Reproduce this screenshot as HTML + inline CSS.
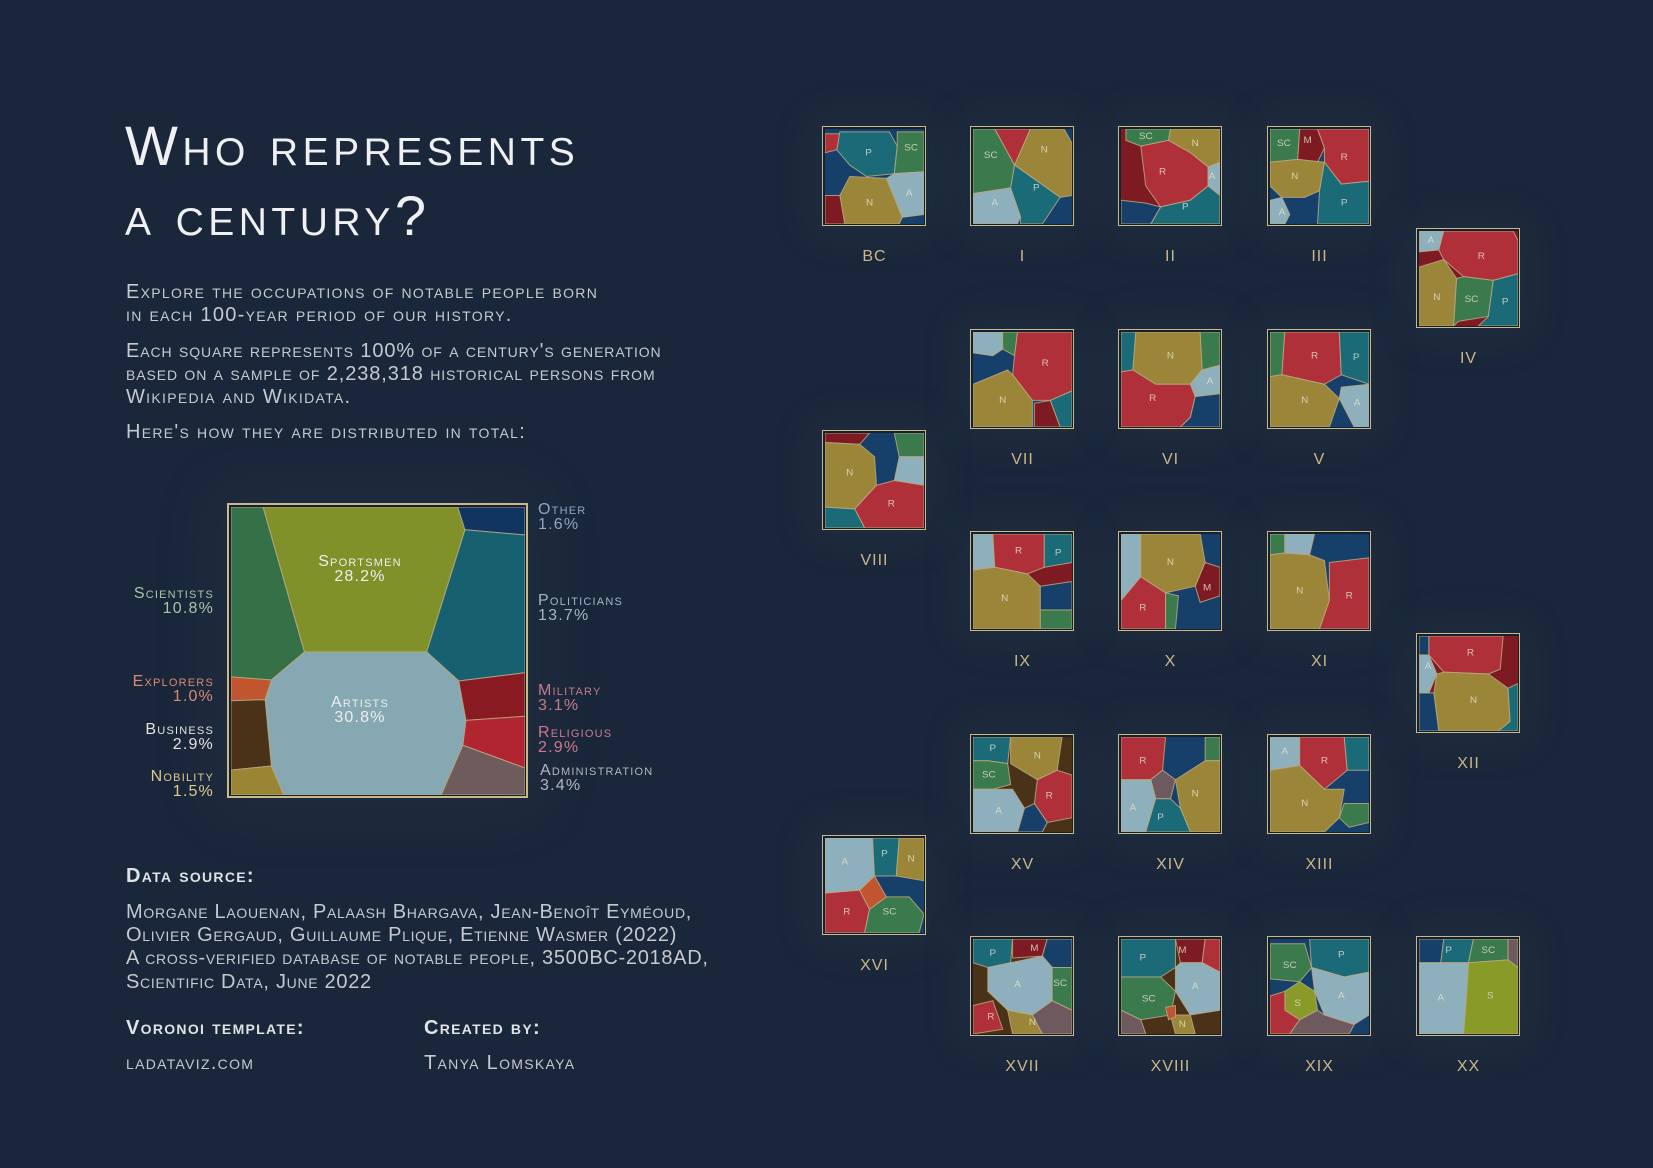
<!DOCTYPE html>
<html><head><meta charset="utf-8"><style>
html,body{margin:0;padding:0}
body{width:1653px;height:1168px;background:#1a2639;position:relative;overflow:hidden;font-family:"Liberation Sans",sans-serif;font-variant:small-caps;color:#c8ccd2}
.a{position:absolute;white-space:nowrap}
.t{font-size:56px;color:#eef0f2;letter-spacing:4.5px;font-weight:normal}
.p{font-size:20px;letter-spacing:1.3px;color:#c6cad0}
.q{letter-spacing:0.9px}
.d{letter-spacing:0.7px}
.sq{position:absolute;width:99px;height:95px;border:1.5px solid #c9b888;padding:1.5px;background:#16202f;box-shadow:0 0 40px 14px rgba(120,135,160,.07)}
.sq svg{display:block;width:99px;height:95px}
.lb{position:absolute;width:105px;text-align:center;font-size:16px;color:#c9b888;letter-spacing:1px;font-variant:normal}
svg polygon{stroke:#bba883;stroke-width:1;vector-effect:non-scaling-stroke;stroke-opacity:.85}
svg text{font-family:"Liberation Sans",sans-serif;font-size:10px;fill:#e6e2d2;fill-opacity:.8;text-anchor:middle;dominant-baseline:middle}
.ml{position:absolute;font-size:16px;line-height:15px;letter-spacing:1.2px}
.r{text-align:right}
</style></head><body>

<div class="a t" style="left:125px;top:113px">Who represents</div>
<div class="a t" style="left:125px;top:183px">a century?</div>

<div class="a p" style="left:126px;top:281px">Explore the occupations of notable people born</div>
<div class="a p" style="left:126px;top:304px">in each 100-year period of our history.</div>
<div class="a p q" style="left:126px;top:340px">Each square represents 100% of a century's generation</div>
<div class="a p q" style="left:126px;top:363px">based on a sample of 2,238,318 historical persons from</div>
<div class="a p" style="left:126px;top:386px">Wikipedia and Wikidata.</div>
<div class="a p" style="left:126px;top:421px">Here's how they are distributed in total:</div>

<!-- main chart -->
<div style="position:absolute;left:227px;top:503px;width:294px;height:288px;border:2px solid #c9b888;padding:1.5px;background:#16202f;box-shadow:0 0 60px 20px rgba(120,135,160,.07)">
<svg viewBox="0 0 284 278" preserveAspectRatio="none" style="display:block;width:294px;height:288px">
<rect width="284" height="278" fill="#16406a"/>
<polygon fill="#357046" points="0,0 31,0 71,140 39,167 0,164"/>
<polygon fill="#80912a" points="31,0 219,0 226,22 189,140 71,140"/>
<polygon fill="#0f3560" points="219,0 284,0 284,27 226,22"/>
<polygon fill="#17606f" points="226,22 284,27 284,160 220,168 189,140"/>
<polygon fill="#86a8b3" points="71,140 189,140 220,168 227,206 224,230 203,278 51,278 39,250 33,186 39,167"/>
<polygon fill="#c0552f" points="0,164 39,167 33,186 0,187"/>
<polygon fill="#4a3218" points="0,187 33,186 39,250 0,254"/>
<polygon fill="#9a8535" points="0,254 39,250 51,278 0,278"/>
<polygon fill="#8a1a22" points="220,168 284,160 284,202 227,206"/>
<polygon fill="#b0252f" points="227,206 284,202 284,252 224,230"/>
<polygon fill="#6f5a5c" points="224,230 284,252 284,278 203,278"/>
</svg>
<div class="ml" style="left:0;width:262px;top:49px;text-align:center;color:#eee">Sportsmen<br>28.2%</div>
<div class="ml" style="left:0;width:262px;top:190px;text-align:center;color:#eee">Artists<br>30.8%</div>
</div>

<div class="ml" style="left:538px;top:502px;color:#8fa8c2">Other<br>1.6%</div>
<div class="ml" style="left:538px;top:593px;color:#a3b6c6">Politicians<br>13.7%</div>
<div class="ml" style="left:538px;top:683px;color:#c27b88">Military<br>3.1%</div>
<div class="ml" style="left:538px;top:725px;color:#cc7a8c">Religious<br>2.9%</div>
<div class="ml" style="left:540px;top:763px;color:#b4b6bd">Administration<br>3.4%</div>
<div class="ml r" style="right:1439px;top:586px;color:#a8c6a8">Scientists<br>10.8%</div>
<div class="ml r" style="right:1439px;top:674px;color:#d88a76">Explorers<br>1.0%</div>
<div class="ml r" style="right:1439px;top:722px;color:#e2e2e2">Business<br>2.9%</div>
<div class="ml r" style="right:1439px;top:769px;color:#dccb8e">Nobility<br>1.5%</div>

<div class="a p" style="left:126px;top:865px;font-weight:bold;color:#e0e2e6">Data source:</div>
<div class="a p d" style="left:126px;top:901px">Morgane Laouenan, Palaash Bhargava, Jean-Benoît Eyméoud,</div>
<div class="a p d" style="left:126px;top:924px">Olivier Gergaud, Guillaume Plique, Etienne Wasmer (2022)</div>
<div class="a p d" style="left:126px;top:947px">A cross-verified database of notable people, 3500BC-2018AD,</div>
<div class="a p d" style="left:126px;top:971px">Scientific Data, June 2022</div>
<div class="a p" style="left:126px;top:1017px;font-weight:bold;color:#e0e2e6">Voronoi template:</div>
<div class="a p" style="left:126px;top:1052px">ladataviz.com</div>
<div class="a p" style="left:424px;top:1017px;font-weight:bold;color:#e0e2e6">Created by:</div>
<div class="a p" style="left:424px;top:1052px">Tanya Lomskaya</div>

<!-- BC -->
<div class="sq" style="left:822px;top:126px"><svg viewBox="0 0 100 100" preserveAspectRatio="none">
<rect width="100" height="100" fill="#16406a"/>
<polygon fill="#b0303a" points="0,5 15,5 12,22 0,25"/>
<polygon fill="#1a6a78" points="15,3 65,3 73,18 70,47 42,50 25,38 12,22"/>
<polygon fill="#3a7a4c" points="73,3 100,3 100,45 70,47 73,18"/>
<polygon fill="#8eb0bc" points="62,52 70,47 100,45 100,90 78,93"/>
<polygon fill="#9a8538" points="25,50 62,52 78,93 75,100 20,100 15,70"/>
<polygon fill="#7e1a22" points="0,70 15,70 20,100 0,100"/>
<text x="44" y="25">P</text><text x="87" y="20">SC</text><text x="85" y="68">A</text><text x="45" y="78">N</text>
</svg></div><div class="lb" style="left:822px;top:248px">BC</div>

<!-- I -->
<div class="sq" style="left:970px;top:126px"><svg viewBox="0 0 100 100" preserveAspectRatio="none">
<rect width="100" height="100" fill="#16406a"/>
<polygon fill="#3a7a4c" points="0,0 22,0 42,38 38,62 0,68"/>
<polygon fill="#b0303a" points="22,0 58,0 42,38"/>
<polygon fill="#9a8538" points="58,0 92,0 100,15 100,70 88,72 42,38"/>
<polygon fill="#8eb0bc" points="0,68 38,62 48,92 45,100 0,100"/>
<polygon fill="#1a6a78" points="42,38 88,72 70,100 48,100 48,92 38,62"/>
<text x="18" y="28">SC</text><text x="72" y="22">N</text><text x="22" y="78">A</text><text x="64" y="62">P</text>
</svg></div><div class="lb" style="left:970px;top:248px">I</div>

<!-- II -->
<div class="sq" style="left:1118px;top:126px"><svg viewBox="0 0 100 100" preserveAspectRatio="none">
<rect width="100" height="100" fill="#7e1a22"/>
<polygon fill="#3a7a4c" points="5,0 50,0 48,12 20,18 5,12"/>
<polygon fill="#9a8538" points="50,0 100,0 100,35 88,40 70,25 48,12"/>
<polygon fill="#b0303a" points="20,18 48,12 70,25 88,40 88,60 70,75 40,82 25,60"/>
<polygon fill="#8eb0bc" points="88,40 100,35 100,70 88,60"/>
<polygon fill="#1a6a78" points="40,82 70,75 88,60 100,70 100,100 30,100"/>
<polygon fill="#16406a" points="0,75 25,78 40,82 30,100 0,100"/>
<text x="25" y="8">SC</text><text x="75" y="15">N</text><text x="42" y="45">R</text><text x="92" y="50">A</text><text x="65" y="82">P</text>
</svg></div><div class="lb" style="left:1118px;top:248px">II</div>

<!-- III -->
<div class="sq" style="left:1267px;top:126px"><svg viewBox="0 0 100 100" preserveAspectRatio="none">
<rect width="100" height="100" fill="#16406a"/>
<polygon fill="#3a7a4c" points="0,0 30,0 28,32 0,35"/>
<polygon fill="#7e1a22" points="30,0 48,0 55,20 48,35 28,32"/>
<polygon fill="#b0303a" points="48,0 100,0 100,55 72,58 55,35 55,20"/>
<polygon fill="#9a8538" points="0,35 28,32 55,35 50,65 35,72 12,72 0,60"/>
<polygon fill="#1a6a78" points="50,65 55,35 72,58 100,55 100,100 48,100"/>
<polygon fill="#8eb0bc" points="0,75 12,72 20,90 15,100 0,100"/>
<text x="14" y="15">SC</text><text x="38" y="12">M</text><text x="75" y="30">R</text><text x="25" y="50">N</text><text x="75" y="78">P</text><text x="12" y="88">A</text>
</svg></div><div class="lb" style="left:1267px;top:248px">III</div>

<!-- IV -->
<div class="sq" style="left:1416px;top:228px"><svg viewBox="0 0 100 100" preserveAspectRatio="none">
<rect width="100" height="100" fill="#7e1a22"/>
<polygon fill="#8eb0bc" points="0,0 25,0 20,20 0,22"/>
<polygon fill="#b0303a" points="25,0 95,0 100,10 100,45 75,52 45,48 25,30 20,20"/>
<polygon fill="#9a8538" points="0,38 25,30 38,50 35,100 0,100"/>
<polygon fill="#3a7a4c" points="38,50 45,48 75,52 70,90 40,95 35,100"/>
<polygon fill="#1a6a78" points="75,52 100,45 100,100 60,100 70,90"/>
<text x="12" y="10">A</text><text x="63" y="27">R</text><text x="18" y="70">N</text><text x="53" y="72">SC</text><text x="87" y="75">P</text>
</svg></div><div class="lb" style="left:1416px;top:350px">IV</div>

<!-- VII -->
<div class="sq" style="left:970px;top:329px"><svg viewBox="0 0 100 100" preserveAspectRatio="none">
<rect width="100" height="100" fill="#16406a"/>
<polygon fill="#8eb0bc" points="0,0 30,0 30,18 20,25 0,22"/>
<polygon fill="#3a7a4c" points="30,0 45,0 42,25 30,18"/>
<polygon fill="#b0303a" points="45,0 100,0 100,62 78,72 60,72 40,45 42,25"/>
<polygon fill="#9a8538" points="0,55 35,40 40,45 60,72 60,100 0,100"/>
<polygon fill="#1a6a78" points="78,72 100,62 100,100 88,100"/>
<polygon fill="#7e1a22" points="62,75 78,72 88,100 62,100"/>
<text x="73" y="33">R</text><text x="30" y="72">N</text>
</svg></div><div class="lb" style="left:970px;top:451px">VII</div>

<!-- VI -->
<div class="sq" style="left:1118px;top:329px"><svg viewBox="0 0 100 100" preserveAspectRatio="none">
<rect width="100" height="100" fill="#7e1a22"/>
<polygon fill="#1a6a78" points="0,0 15,0 12,40 0,42"/>
<polygon fill="#9a8538" points="15,0 80,0 82,40 70,55 35,55 12,40"/>
<polygon fill="#3a7a4c" points="80,0 100,0 100,35 82,40"/>
<polygon fill="#8eb0bc" points="82,40 100,35 100,65 75,68 70,55"/>
<polygon fill="#b0303a" points="0,42 12,40 35,55 70,55 75,68 70,90 60,100 0,100"/>
<polygon fill="#16406a" points="70,90 75,68 100,65 100,100 60,100"/>
<text x="50" y="25">N</text><text x="90" y="52">A</text><text x="32" y="70">R</text>
</svg></div><div class="lb" style="left:1118px;top:451px">VI</div>

<!-- V -->
<div class="sq" style="left:1267px;top:329px"><svg viewBox="0 0 100 100" preserveAspectRatio="none">
<rect width="100" height="100" fill="#16406a"/>
<polygon fill="#3a7a4c" points="0,0 15,0 12,45 0,47"/>
<polygon fill="#b0303a" points="15,0 70,0 72,45 55,55 12,45"/>
<polygon fill="#1a6a78" points="70,0 100,0 100,55 72,45"/>
<polygon fill="#9a8538" points="0,47 12,45 55,55 70,70 60,100 0,100"/>
<polygon fill="#8eb0bc" points="72,58 100,55 100,100 85,100 70,70"/>
<text x="45" y="25">R</text><text x="87" y="27">P</text><text x="35" y="72">N</text><text x="88" y="75">A</text>
</svg></div><div class="lb" style="left:1267px;top:451px">V</div>

<!-- VIII -->
<div class="sq" style="left:822px;top:430px"><svg viewBox="0 0 100 100" preserveAspectRatio="none">
<rect width="100" height="100" fill="#16406a"/>
<polygon fill="#7e1a22" points="0,0 45,0 35,12 0,10"/>
<polygon fill="#9a8538" points="0,10 35,12 50,25 52,55 30,80 0,78"/>
<polygon fill="#3a7a4c" points="70,0 100,0 100,25 75,25"/>
<polygon fill="#8eb0bc" points="75,25 100,25 100,55 70,50"/>
<polygon fill="#b0303a" points="52,55 70,50 100,55 100,100 40,100 30,80"/>
<polygon fill="#1a6a78" points="0,78 30,80 40,100 0,100"/>
<text x="25" y="42">N</text><text x="67" y="75">R</text>
</svg></div><div class="lb" style="left:822px;top:552px">VIII</div>

<!-- IX -->
<div class="sq" style="left:970px;top:531px"><svg viewBox="0 0 100 100" preserveAspectRatio="none">
<rect width="100" height="100" fill="#7e1a22"/>
<polygon fill="#8eb0bc" points="0,0 20,0 22,35 0,38"/>
<polygon fill="#b0303a" points="20,0 72,0 72,35 55,42 22,35"/>
<polygon fill="#1a6a78" points="72,0 100,0 100,30 72,35"/>
<polygon fill="#9a8538" points="0,38 22,35 55,42 68,55 68,100 0,100"/>
<polygon fill="#16406a" points="68,55 100,50 100,80 68,80"/>
<polygon fill="#3a7a4c" points="68,80 100,80 100,100 68,100"/>
<text x="46" y="18">R</text><text x="86" y="20">P</text><text x="32" y="68">N</text>
</svg></div><div class="lb" style="left:970px;top:653px">IX</div>

<!-- X -->
<div class="sq" style="left:1118px;top:531px"><svg viewBox="0 0 100 100" preserveAspectRatio="none">
<rect width="100" height="100" fill="#16406a"/>
<polygon fill="#8eb0bc" points="0,0 20,0 20,70 0,70"/>
<polygon fill="#9a8538" points="20,0 80,0 85,30 75,55 45,62 20,45"/>
<polygon fill="#7e1a22" points="75,55 85,30 100,35 100,65 80,72"/>
<polygon fill="#b0303a" points="0,70 20,45 45,62 45,100 0,100"/>
<polygon fill="#3a7a4c" points="45,62 58,65 55,100 45,100"/>
<text x="50" y="30">N</text><text x="87" y="57">M</text><text x="22" y="78">R</text>
</svg></div><div class="lb" style="left:1118px;top:653px">X</div>

<!-- XI -->
<div class="sq" style="left:1267px;top:531px"><svg viewBox="0 0 100 100" preserveAspectRatio="none">
<rect width="100" height="100" fill="#16406a"/>
<polygon fill="#3a7a4c" points="0,0 15,0 15,20 0,22"/>
<polygon fill="#8eb0bc" points="15,0 45,0 40,22 15,20"/>
<polygon fill="#9a8538" points="0,22 15,20 40,22 55,28 60,70 50,100 0,100"/>
<polygon fill="#b0303a" points="60,30 100,25 100,100 50,100 60,70"/>
<text x="30" y="60">N</text><text x="80" y="65">R</text>
</svg></div><div class="lb" style="left:1267px;top:653px">XI</div>

<!-- XII -->
<div class="sq" style="left:1416px;top:633px"><svg viewBox="0 0 100 100" preserveAspectRatio="none">
<rect width="100" height="100" fill="#7e1a22"/>
<polygon fill="#16406a" points="0,0 10,0 10,20 0,20"/>
<polygon fill="#8eb0bc" points="0,20 10,20 18,40 10,60 0,60"/>
<polygon fill="#b0303a" points="10,0 85,0 82,35 70,40 25,38 10,20"/>
<polygon fill="#9a8538" points="18,40 25,38 70,40 90,55 92,90 80,100 20,100 15,60"/>
<polygon fill="#16406a" points="0,60 15,60 20,100 0,100"/>
<polygon fill="#1a6a78" points="90,55 100,50 100,100 80,100 92,90"/>
<text x="52" y="18">R</text><text x="9" y="32">A</text><text x="55" y="68">N</text>
</svg></div><div class="lb" style="left:1416px;top:755px">XII</div>

<!-- XV -->
<div class="sq" style="left:970px;top:734px"><svg viewBox="0 0 100 100" preserveAspectRatio="none">
<rect width="100" height="100" fill="#4a3218"/>
<polygon fill="#1a6a78" points="0,0 38,0 35,28 15,25 0,25"/>
<polygon fill="#9a8538" points="38,0 90,0 85,35 65,45 38,28"/>
<polygon fill="#3a7a4c" points="0,25 15,25 35,28 38,50 20,55 0,55"/>
<polygon fill="#b0303a" points="65,45 85,35 100,40 100,85 75,90 62,70"/>
<polygon fill="#8eb0bc" points="0,55 20,55 40,55 52,75 45,100 0,100"/>
<polygon fill="#16406a" points="45,100 52,75 62,70 75,90 70,100"/>
<text x="20" y="12">P</text><text x="65" y="20">N</text><text x="16" y="40">SC</text><text x="77" y="62">R</text><text x="26" y="78">A</text>
</svg></div><div class="lb" style="left:970px;top:856px">XV</div>

<!-- XIV -->
<div class="sq" style="left:1118px;top:734px"><svg viewBox="0 0 100 100" preserveAspectRatio="none">
<rect width="100" height="100" fill="#16406a"/>
<polygon fill="#b0303a" points="0,0 45,0 42,35 30,45 0,45"/>
<polygon fill="#3a7a4c" points="85,0 100,0 100,25 85,25"/>
<polygon fill="#9a8538" points="55,45 85,25 100,25 100,100 70,100 60,75"/>
<polygon fill="#6e5a5e" points="30,45 42,35 55,45 50,65 35,65"/>
<polygon fill="#8eb0bc" points="0,45 30,45 35,65 25,100 0,100"/>
<polygon fill="#1a6a78" points="35,65 50,65 60,75 70,100 25,100"/>
<text x="22" y="25">R</text><text x="75" y="60">N</text><text x="12" y="75">A</text><text x="40" y="85">P</text>
</svg></div><div class="lb" style="left:1118px;top:856px">XIV</div>

<!-- XIII -->
<div class="sq" style="left:1267px;top:734px"><svg viewBox="0 0 100 100" preserveAspectRatio="none">
<rect width="100" height="100" fill="#16406a"/>
<polygon fill="#8eb0bc" points="0,0 30,0 30,30 0,35"/>
<polygon fill="#b0303a" points="30,0 75,0 78,35 55,55 30,30"/>
<polygon fill="#1a6a78" points="75,0 100,0 100,35 78,35"/>
<polygon fill="#9a8538" points="0,35 30,30 55,55 75,55 70,85 55,100 0,100"/>
<polygon fill="#3a7a4c" points="75,70 100,70 100,90 80,95 70,85"/>
<text x="15" y="15">A</text><text x="55" y="25">R</text><text x="35" y="70">N</text>
</svg></div><div class="lb" style="left:1267px;top:856px">XIII</div>

<!-- XVI -->
<div class="sq" style="left:822px;top:835px"><svg viewBox="0 0 100 100" preserveAspectRatio="none">
<rect width="100" height="100" fill="#16406a"/>
<polygon fill="#8eb0bc" points="0,0 48,0 50,40 35,55 0,58"/>
<polygon fill="#1a6a78" points="48,0 75,0 72,40 50,40"/>
<polygon fill="#9a8538" points="75,0 100,0 100,45 72,40"/>
<polygon fill="#b0303a" points="0,58 35,55 45,75 40,100 0,100"/>
<polygon fill="#3a7a4c" points="45,75 62,62 85,62 100,80 95,100 40,100"/>
<polygon fill="#c0552f" points="35,55 50,40 62,62 45,75"/>
<text x="20" y="25">A</text><text x="60" y="17">P</text><text x="87" y="22">N</text><text x="22" y="78">R</text><text x="65" y="78">SC</text>
</svg></div><div class="lb" style="left:822px;top:957px">XVI</div>

<!-- XVII -->
<div class="sq" style="left:970px;top:936px"><svg viewBox="0 0 100 100" preserveAspectRatio="none">
<rect width="100" height="100" fill="#4a3218"/>
<polygon fill="#1a6a78" points="0,0 40,0 38,25 15,30 0,25"/>
<polygon fill="#7e1a22" points="40,0 75,0 70,18 40,20"/>
<polygon fill="#16406a" points="75,0 100,0 100,30 80,30 70,18"/>
<polygon fill="#8eb0bc" points="15,30 38,25 70,18 80,30 80,65 60,80 35,75 15,55"/>
<polygon fill="#3a7a4c" points="80,30 100,30 100,75 80,65"/>
<polygon fill="#b0303a" points="0,70 20,65 30,95 0,100"/>
<polygon fill="#9a8538" points="35,75 60,80 70,100 40,100"/>
<polygon fill="#6e5a5e" points="70,100 60,80 80,65 100,75 100,100"/>
<text x="20" y="15">P</text><text x="62" y="10">M</text><text x="45" y="48">A</text><text x="88" y="47">SC</text><text x="18" y="82">R</text><text x="60" y="88">N</text>
</svg></div><div class="lb" style="left:970px;top:1058px">XVII</div>

<!-- XVIII -->
<div class="sq" style="left:1118px;top:936px"><svg viewBox="0 0 100 100" preserveAspectRatio="none">
<rect width="100" height="100" fill="#4a3218"/>
<polygon fill="#1a6a78" points="0,0 55,0 55,30 40,40 0,40"/>
<polygon fill="#7e1a22" points="55,0 85,0 82,25 60,25"/>
<polygon fill="#b0303a" points="85,0 100,0 100,35 82,25"/>
<polygon fill="#8eb0bc" points="55,30 60,25 82,25 100,35 100,75 70,80 55,55"/>
<polygon fill="#3a7a4c" points="0,40 40,40 55,55 50,80 20,85 0,75"/>
<polygon fill="#9a8538" points="50,80 70,80 75,100 55,100"/>
<polygon fill="#6e5a5e" points="0,75 20,85 25,100 0,100"/>
<polygon fill="#c0552f" points="45,72 55,70 55,82 48,85"/>
<text x="22" y="20">P</text><text x="62" y="12">M</text><text x="75" y="50">A</text><text x="28" y="63">SC</text><text x="62" y="90">N</text>
</svg></div><div class="lb" style="left:1118px;top:1058px">XVIII</div>

<!-- XIX -->
<div class="sq" style="left:1267px;top:936px"><svg viewBox="0 0 100 100" preserveAspectRatio="none">
<rect width="100" height="100" fill="#16406a"/>
<polygon fill="#3a7a4c" points="0,5 35,5 42,30 30,45 0,42"/>
<polygon fill="#1a6a78" points="40,0 100,0 100,35 75,40 42,30"/>
<polygon fill="#8eb0bc" points="42,30 75,40 100,35 100,80 85,90 55,80 45,55"/>
<polygon fill="#8a9a28" points="15,55 30,45 45,55 48,75 30,85 15,75"/>
<polygon fill="#b0303a" points="0,60 15,55 15,75 30,85 20,100 0,100"/>
<polygon fill="#6e5a5e" points="30,85 48,75 55,80 85,90 80,100 20,100"/>
<text x="20" y="28">SC</text><text x="72" y="17">P</text><text x="72" y="60">A</text><text x="28" y="68">S</text>
</svg></div><div class="lb" style="left:1267px;top:1058px">XIX</div>

<!-- XX -->
<div class="sq" style="left:1416px;top:936px"><svg viewBox="0 0 100 100" preserveAspectRatio="none">
<rect width="100" height="100" fill="#4a3218"/>
<polygon fill="#16406a" points="0,0 25,0 22,25 0,25"/>
<polygon fill="#1a6a78" points="25,0 55,0 50,25 22,25"/>
<polygon fill="#3a7a4c" points="55,0 90,0 90,22 50,25"/>
<polygon fill="#6e5a5e" points="90,0 100,0 100,30 90,22"/>
<polygon fill="#8eb0bc" points="0,25 22,25 50,25 48,60 45,100 0,100"/>
<polygon fill="#8a9a28" points="50,25 90,22 100,30 100,100 45,100 48,60"/>
<text x="30" y="12">P</text><text x="70" y="12">SC</text><text x="22" y="62">A</text><text x="72" y="60">S</text>
</svg></div><div class="lb" style="left:1416px;top:1058px">XX</div>

</body></html>
